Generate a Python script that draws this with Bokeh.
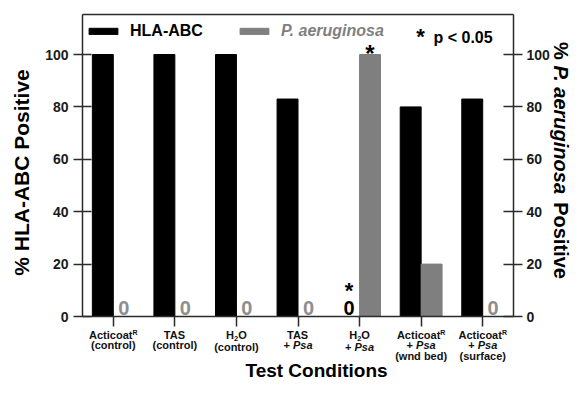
import math
from bokeh.plotting import figure
from bokeh.models import (Range1d, LinearAxis, FixedTicker, Label, LabelSet,
                          ColumnDataSource, Legend, LegendItem)
from bokeh.core.properties import value
from bokeh.transform import dodge
from bokeh.embed import file_html
from bokeh.resources import INLINE

# ---------------- data ----------------
conditions = ["Acticoat (control)", "TAS (control)", "H2O (control)", "TAS + Psa",
              "H2O + Psa", "Acticoat + Psa (wnd bed)", "Acticoat + Psa (surface)"]
hla_abc = [100, 100, 100, 83, 0, 80, 83]
p_aeruginosa = [0, 0, 0, 0, 100, 20, 0]
hla_significant = [0, 0, 0, 0, 1, 0, 0]
psa_significant = [0, 0, 0, 0, 1, 0, 0]
y_ticks = [0, 20, 40, 60, 80, 100]
series_names = ["HLA-ABC", "P. aeruginosa"]
sig_note = "p < 0.05"
x_title = "Test Conditions"
y_title_left = "% HLA-ABC Positive"
y_title_right = [("% ", "bold"), ("P. aeruginosa", "bold italic"), (" Positive", "bold")]
# tick labels: lines of (text, style) segments
tick_lines = [
    [[("Acticoat", "b"), ("R", "sup")], [("(control)", "b")]],
    [[("TAS", "b")], [("(control)", "b")]],
    [[("H", "b"), ("2", "sub"), ("O", "b")], [("(control)", "b")]],
    [[("TAS", "b")], [("+ ", "b"), ("Psa", "bi")]],
    [[("H", "b"), ("2", "sub"), ("O", "b")], [("+ ", "b"), ("Psa", "bi")]],
    [[("Acticoat", "b"), ("R", "sup")], [("+ ", "b"), ("Psa", "bi")], [("(wnd bed)", "b")]],
    [[("Acticoat", "b"), ("R", "sup")], [("+ ", "b"), ("Psa", "bi")], [("(surface)", "b")]],
]

# ---------------- style / layout ----------------
FONT = "Liberation Sans"
GREY = "#7f7f7f"
ZERO_GREY = "#8e8e8e"
DARK = "#2b2b2b"
W, H = 570, 382
# chart box in canvas pixels
PX_L, PX_R, PX_T, PX_B = 82, 513, 14, 316
n = len(conditions)
SX = (PX_R - PX_L) / n            # px per category
SY = 262.0 / 100                  # px per percent
Y_TOP = (PX_B - PX_T) / SY
BW = 0.34

CW = {' ': 278, '%': 889, '(': 333, ')': 333, '+': 584, '-': 333, '.': 278, '<': 584,
      'A': 722, 'B': 722, 'C': 722, 'H': 722, 'L': 611, 'O': 778, 'P': 667, 'R': 722,
      'S': 667, 'T': 611, 'a': 556, 'b': 611, 'c': 556, 'd': 611, 'e': 556, 'f': 333,
      'g': 611, 'i': 278, 'l': 278, 'n': 611, 'o': 611, 'p': 611, 'r': 389, 's': 556,
      't': 333, 'u': 611, 'v': 556, 'w': 778}
for d in "0123456789":
    CW[d] = 556


def tw(s, size):
    return sum(CW.get(c, 556) for c in s) * size / 1000.0


def mid(baseline, size):
    """middle anchor for a given text baseline (canvas px)"""
    return baseline - 0.35 * size


def yo(sy):
    """Label y_offset (from data y=0) for a canvas y"""
    return PX_B - sy


x_range = Range1d(-0.5 - PX_L / SX, n - 0.5 + (W - PX_R) / SX)
y_range = Range1d(-(H - PX_B) / SY, Y_TOP + PX_T / SY)

p = figure(width=W, height=H, output_backend="svg", toolbar_location=None,
           x_range=x_range, y_range=y_range, min_border=0,
           background_fill_color="white", border_fill_color="white")
p.xgrid.visible = False
p.ygrid.visible = False
p.outline_line_color = None

src = ColumnDataSource(dict(x=list(range(n)), hla=hla_abc, psa=p_aeruginosa))
r_hla = p.vbar(x=dodge("x", -BW / 2, range=p.x_range), top="hla", width=BW, source=src,
               fill_color="black", line_color="black")
r_psa = p.vbar(x=dodge("x", BW / 2, range=p.x_range), top="psa", width=BW, source=src,
               fill_color=GREY, line_color=GREY)

# axes (fixed at the edges of the chart box)
xa = p.xaxis[0]
xa.fixed_location = 0
xa.bounds = (-0.5, n - 0.5)
xa.ticker = FixedTicker(ticks=list(range(n)))
xa.major_label_overrides = {i: "" for i in range(n)}
xa.major_tick_in = 0
xa.major_tick_out = 10

top_ax = LinearAxis(ticker=FixedTicker(ticks=[]), fixed_location=Y_TOP, bounds=(-0.5, n - 0.5))
top_ax.major_tick_line_color = None
p.add_layout(top_ax, "above")

ya = p.yaxis[0]
ya.fixed_location = -0.5
ya.bounds = (0, Y_TOP)
ya.ticker = FixedTicker(ticks=y_ticks)
ya.major_tick_in = 9
ya.major_tick_out = 9
ya.major_label_standoff = 5
ra = LinearAxis(ticker=FixedTicker(ticks=y_ticks), fixed_location=n - 0.5, bounds=(0, Y_TOP))
ra.major_tick_in = 10
ra.major_tick_out = 9
ra.major_label_standoff = 4
p.add_layout(ra, "right")
for ax in (xa, top_ax, ya, ra):
    ax.minor_tick_line_color = None
    ax.axis_line_color = DARK
    ax.axis_line_width = 1.5
    if ax is not top_ax:
        ax.major_tick_line_color = DARK
    ax.major_tick_line_width = 1.5
for ax in (ya, ra):
    ax.major_label_text_font = FONT
    ax.major_label_text_font_style = "bold"
    ax.major_label_text_font_size = "14px"
    ax.major_label_text_color = "#1a1a1a"

# zero labels and significance stars
hz = [i for i in range(n) if hla_abc[i] == 0]
pz = [i for i in range(n) if p_aeruginosa[i] == 0]
src_hz = ColumnDataSource(dict(x=[i - BW / 2 for i in hz], y=[hla_abc[i] for i in hz], t=["0"] * len(hz)))
src_pz = ColumnDataSource(dict(x=[i + BW / 2 for i in pz], y=[p_aeruginosa[i] for i in pz], t=["0"] * len(pz)))
for s, col in ((src_hz, "black"), (src_pz, ZERO_GREY)):
    p.add_layout(LabelSet(x="x", y="y", text="t", source=s, text_align="center",
                          text_baseline="alphabetic", y_offset=2,
                          text_font=value(FONT), text_font_style="bold", text_font_size="20px",
                          text_color=col))
hs = [i for i in range(n) if hla_significant[i]]
ps = [i for i in range(n) if psa_significant[i]]
src_hs = ColumnDataSource(dict(x=[i - BW / 2 for i in hs], y=[hla_abc[i] for i in hs], t=["*"] * len(hs)))
src_ps = ColumnDataSource(dict(x=[i + BW / 2 for i in ps], y=[p_aeruginosa[i] for i in ps], t=["*"] * len(ps)))
p.add_layout(LabelSet(x="x", y="y", text="t", source=src_hs, text_align="center",
                      text_baseline="alphabetic", y_offset=19,
                      text_font=value(FONT), text_font_style="bold", text_font_size="22px",
                      text_color="black"))
p.add_layout(LabelSet(x="x", y="y", text="t", source=src_ps, text_align="center",
                      text_baseline="alphabetic", y_offset=-7,
                      text_font=value(FONT), text_font_style="bold", text_font_size="24px",
                      text_color="black"))

# legends
common = dict(orientation="horizontal", glyph_width=36, glyph_height=8, label_standoff=9,
              label_text_font=FONT, label_text_font_size="16px", label_height=8,
              padding=1, margin=0, spacing=0, border_line_color=None, background_fill_alpha=0)
leg1 = Legend(items=[LegendItem(label=value(series_names[0]), renderers=[r_hla])],
              location=(85, 342), label_text_font_style="bold",
              label_text_color="black", **common)
leg2 = Legend(items=[LegendItem(label=value(series_names[1]), renderers=[r_psa])],
              location=(236, 342), label_text_font_style="bold italic",
              label_text_color=GREY, **common)
p.add_layout(leg1)
p.add_layout(leg2)

# significance note
p.add_layout(Label(x=-0.5, y=0, x_offset=420 - PX_L, y_offset=yo(mid(44, 22)), text="*",
                   text_align="center", text_baseline="middle", text_font=FONT,
                   text_font_style="bold", text_font_size="22px", text_color="black"))
p.add_layout(Label(x=-0.5, y=0, x_offset=433 - PX_L, y_offset=yo(mid(43, 16)), text=sig_note,
                   text_align="left", text_baseline="middle", text_font=FONT,
                   text_font_style="bold", text_font_size="16px", text_color="black"))

# category tick labels (rich text)
STY = {"b": (11, "bold", 0), "bi": (11, "bold italic", 0), "sup": (7, "bold", -4), "sub": (7.5, "bold", 3)}
for i, lines in enumerate(tick_lines):
    has_sub = any(s == "sub" for _, s in lines[0])
    for k, line in enumerate(lines):
        baseline = 338 + 10.5 * k + (2 if (has_sub and k > 0) else 0)
        total = sum(tw(t, STY[s][0]) for t, s in line)
        cur = -total / 2
        for t, s in line:
            size, style, dy = STY[s]
            lead = tw(t[:len(t) - len(t.lstrip())], size)
            p.add_layout(Label(x=i, y=0, x_offset=cur + lead, y_offset=yo(mid(baseline + dy, size)),
                               text=t.strip(), text_align="left", text_baseline="middle",
                               text_font=FONT, text_font_style=style,
                               text_font_size=f"{size}px", text_color="#111111"))
            cur += tw(t, size)

# axis titles
LS = 21
p.add_layout(Label(x=-0.5, y=0, x_offset=(28 - 0.35 * LS) - PX_L, y_offset=yo(172), text=y_title_left,
                   angle=math.pi / 2, text_align="center", text_baseline="middle",
                   text_font=FONT, text_font_style="bold", text_font_size=f"{LS}px",
                   text_color="black"))
RS = 20
rtotal = sum(tw(t, RS) for t, _ in y_title_right)
cy = 160 - rtotal / 2
for t, style in y_title_right:
    lead = tw(t[:len(t) - len(t.lstrip())], RS)
    p.add_layout(Label(x=n - 0.5, y=0, x_offset=(553 + 0.35 * RS) - PX_R, y_offset=yo(cy + lead),
                       text=t.strip(), angle=-math.pi / 2, text_align="left", text_baseline="middle",
                       text_font=FONT, text_font_style=style, text_font_size=f"{RS}px",
                       text_color="black"))
    cy += tw(t, RS)

TS = 19
p.add_layout(Label(x=(n - 1) / 2, y=0, x_offset=316 - (PX_L + 3.5 * SX), y_offset=yo(mid(377, TS)),
                   text=x_title, text_align="center", text_baseline="middle", text_font=FONT,
                   text_font_style="bold", text_font_size=f"{TS}px", text_color="black"))

open("out.html", "w").write(file_html(p, INLINE))
